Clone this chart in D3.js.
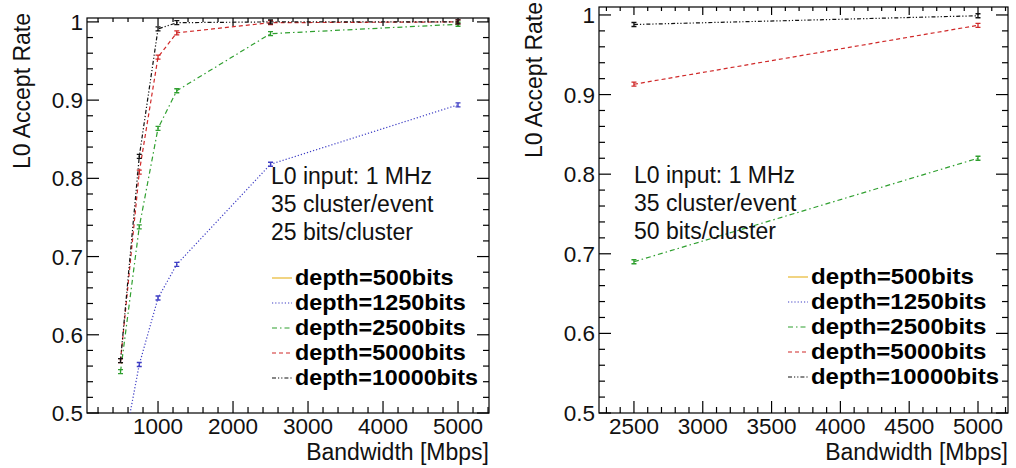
<!DOCTYPE html>
<html>
<head>
<meta charset="utf-8">
<script src="https://d3js.org/d3.v7.min.js"></script>
<style>
  body { margin: 0; background: #fff; }
  svg { font-family: "Liberation Sans", Arial, sans-serif; }
  .frame { fill: none; stroke: #000; stroke-width: 1.2; }
  .tick { stroke: #000; stroke-width: 1.2; }
  .label { font-size: 22.5px; fill: #111; }
  .title { font-size: 23px; fill: #111; }
  .note { font-size: 23px; fill: #111; }
  .legend text { font-size: 22.5px; font-weight: bold; fill: #000; }
  .series { fill: none; stroke-width: 1.2; }
</style>
</head>
<body>
<div id="chart"></div>
<script>
// ---- data ----
var seriesNames = ["depth=500bits", "depth=1250bits", "depth=2500bits", "depth=5000bits", "depth=10000bits"];
var seriesColors = ["#e8b830", "#3c3cc4", "#2f9f2f", "#d02828", "#111111"];
var seriesDash = ["none", "1.2,2", "5,3,1.5,3", "4,3", "4,2,1.2,2,1.2,2"];

// left panel: 25 bits/cluster
var leftBandwidth = [500, 750, 1000, 1250, 2500, 5000];
var left500 = [];  // below the shown range
var left1250 = [0.435, 0.562, 0.647, 0.690, 0.818, 0.894];
var left2500 = [0.553, 0.738, 0.864, 0.912, 0.985, 0.997];
var left5000 = [0.567, 0.808, 0.955, 0.986, 0.999, 1.0];
var left10000 = [0.567, 0.828, 0.991, 0.999, 1.0, 1.0];
var leftNotes = ["L0 input: 1 MHz", "35 cluster/event", "25 bits/cluster"];

// right panel: 50 bits/cluster
var rightBandwidth = [2500, 5000];
var right500 = [];  // below the shown range
var right1250 = [];
var right2500 = [0.690, 0.820];
var right5000 = [0.913, 0.987];
var right10000 = [0.988, 0.999];
var rightNotes = ["L0 input: 1 MHz", "35 cluster/event", "50 bits/cluster"];

var leftXTicks = [1000, 2000, 3000, 4000, 5000];
var rightXTicks = [2500, 3000, 3500, 4000, 4500, 5000];
var yTicks = [0.5, 0.6, 0.7, 0.8, 0.9, 1];

var svg = d3.select("#chart").append("svg")
  .attr("width", 1016)
  .attr("height", 468);

function drawPanel(p) {
  var g = svg.append("g");
  var x = d3.scaleLinear().domain(p.xDomain).range([p.left, p.right]);
  var y = d3.scaleLinear().domain(p.yDomain).range([p.bottom, p.top]);

  var clipId = "clip" + p.id;
  g.append("clipPath").attr("id", clipId)
    .append("rect")
    .attr("x", p.left).attr("y", p.top)
    .attr("width", p.right - p.left).attr("height", p.bottom - p.top);

  // ticks, ROOT style, on all four sides
  var xMinor = d3.range(p.xMinorStep, p.xDomain[1], p.xMinorStep)
    .filter(v => v > p.xDomain[0]);
  var yMinor = d3.range(0.5, 1.0001, 0.02);

  xMinor.forEach(function(v) {
    var major = p.xTicks.some(t => Math.abs(t - v) < 1e-6);
    var len = major ? 12 : 6;
    g.append("line").attr("class", "tick")
      .attr("x1", x(v)).attr("x2", x(v))
      .attr("y1", p.bottom).attr("y2", p.bottom - len);
    g.append("line").attr("class", "tick")
      .attr("x1", x(v)).attr("x2", x(v))
      .attr("y1", p.top).attr("y2", p.top + (major ? 8 : 4));
  });
  yMinor.forEach(function(v) {
    var major = yTicks.some(t => Math.abs(t - v) < 1e-6);
    var len = major ? 12 : 6;
    g.append("line").attr("class", "tick")
      .attr("x1", p.left).attr("x2", p.left + len)
      .attr("y1", y(v)).attr("y2", y(v));
    g.append("line").attr("class", "tick")
      .attr("x1", p.right).attr("x2", p.right - len)
      .attr("y1", y(v)).attr("y2", y(v));
  });

  g.append("rect").attr("class", "frame")
    .attr("x", p.left).attr("y", p.top)
    .attr("width", p.right - p.left).attr("height", p.bottom - p.top);

  // tick labels
  g.selectAll(".xl").data(p.xTicks).enter().append("text")
    .attr("class", "label")
    .attr("x", d => x(d)).attr("y", p.bottom + 21)
    .attr("text-anchor", "middle")
    .text(d => d);
  g.selectAll(".yl").data(yTicks).enter().append("text")
    .attr("class", "label")
    .attr("x", p.left - 4).attr("y", d => y(d) + 8)
    .attr("text-anchor", "end")
    .text(d => d3.format("")(d));

  // axis titles
  g.append("text").attr("class", "title")
    .attr("x", p.right).attr("y", p.bottom + 47)
    .attr("text-anchor", "end")
    .text("Bandwidth [Mbps]");
  g.append("text").attr("class", "title")
    .attr("transform", `translate(${p.left - 57}, ${p.top - 5}) rotate(-90)`)
    .attr("text-anchor", "end")
    .text("L0 Accept Rate");

  // series
  var line = d3.line().x(d => x(d[0])).y(d => y(d[1]));
  var plot = g.append("g").attr("clip-path", `url(#${clipId})`);
  p.series.forEach(function(vals, i) {
    var pts = vals.map((v, j) => [p.bandwidth[j], v]);
    if (!pts.length) return;
    plot.append("path").attr("class", "series")
      .attr("d", line(pts))
      .style("stroke", seriesColors[i])
      .style("stroke-dasharray", seriesDash[i]);
    pts.forEach(function(d) {
      var cx = x(d[0]), cy = y(d[1]);
      plot.append("path")
        .attr("d", `M${cx - 2.5},${cy - 2}h5M${cx},${cy - 2}v4M${cx - 2.5},${cy + 2}h5`)
        .style("stroke", seriesColors[i])
        .style("stroke-width", 1.3)
        .style("fill", "none");
    });
  });

  // notes
  p.notes.forEach(function(t, i) {
    g.append("text").attr("class", "note")
      .attr("x", p.noteX).attr("y", p.noteY + i * p.noteStep)
      .text(t);
  });

  // legend
  var lg = g.append("g").attr("class", "legend");
  seriesNames.forEach(function(name, i) {
    var yy = p.legendY + i * 25;
    lg.append("line")
      .attr("x1", p.legendX).attr("x2", p.legendX + 20)
      .attr("y1", yy - 7).attr("y2", yy - 7)
      .style("stroke", seriesColors[i])
      .style("stroke-width", 1.2)
      .style("stroke-dasharray", seriesDash[i]);
    lg.append("text")
      .attr("x", p.legendX + 23).attr("y", yy)
      .attr("textLength", p.legendW * name.length / 15)
      .attr("lengthAdjust", "spacingAndGlyphs")
      .text(name);
  });
}

drawPanel({
  id: "L", left: 87, right: 489, top: 18, bottom: 413,
  xDomain: [53, 5413], yDomain: [0.5, 1.005], xMinorStep: 200,
  xTicks: leftXTicks, bandwidth: leftBandwidth,
  series: [left500, left1250, left2500, left5000, left10000],
  notes: leftNotes, noteX: 271, noteY: 184, noteStep: 28,
  legendX: 272, legendY: 285, legendW: 183
});

drawPanel({
  id: "R", left: 599, right: 1008, top: 7, bottom: 413,
  xDomain: [2246, 5218], yDomain: [0.5, 1.01], xMinorStep: 100,
  xTicks: rightXTicks, bandwidth: rightBandwidth,
  series: [right500, right1250, right2500, right5000, right10000],
  notes: rightNotes, noteX: 634, noteY: 183, noteStep: 28,
  legendX: 788, legendY: 284, legendW: 188
});
</script>
</body>
</html>
